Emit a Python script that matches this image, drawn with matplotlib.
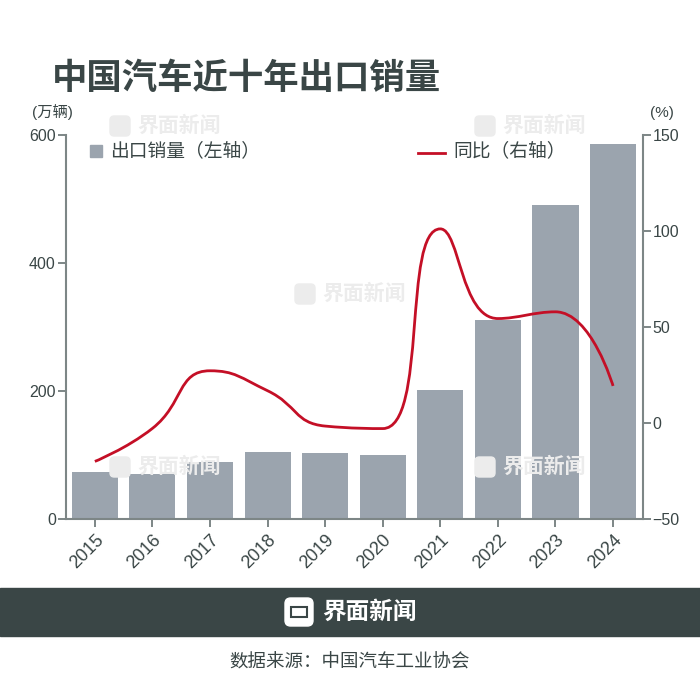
import numpy as np
import matplotlib.pyplot as plt
from matplotlib.path import Path
from matplotlib.patches import PathPatch, FancyBboxPatch, Rectangle

plt.rcParams['font.family'] = ['Liberation Sans', 'Noto Sans CJK SC', 'DejaVu Sans']

# 数据
years = ['2015', '2016', '2017', '2018', '2019', '2020', '2021', '2022', '2023', '2024']
export_vol = [72.8, 70.8, 89.1, 104.1, 102.4, 99.5, 201.5, 311.1, 491.0, 585.9]  # 万辆
yoy = [-20.0, -2.8, 27.2, 16.8, -1.6, -2.9, 101.1, 54.4, 57.9, 19.3]  # %

dark = '#3a4646'
axis_c = '#7d8686'
bar_c = '#9ba4ae'
line_c = '#c40f26'
wm_c = '#ececec'

fig = plt.figure(figsize=(7, 6.97), dpi=100)
ax = fig.add_axes([65.5 / 700, 1 - 519 / 697, (643 - 65.5) / 700, (519 - 135) / 697])
ax2 = ax.twinx()

x = np.arange(len(years))
ax.bar(x, export_vol, width=0.8, color=bar_c, zorder=2)
ax.set_xlim(-0.51, 9.52)
ax.set_ylim(0, 600)
ax.set_yticks([0, 200, 400, 600])
ax.set_xticks(x)
ax.set_xticklabels(years, rotation=45, ha='right', rotation_mode='anchor')
ax2.set_ylim(-50, 150)
ax2.set_yticks([-50, 0, 50, 100, 150])


def smooth_path(xs, ys, sx, sy, smooth=0.5):
    # 在像素比例下计算贝塞尔控制点（限制控制点不越过相邻点）
    px = np.asarray(xs, float) * sx
    py = np.asarray(ys, float) * sy
    n = len(px)
    cp_in = [None] * n
    cp_out = [None] * n
    cp_in[0] = cp_out[0] = (px[0], py[0])
    cp_in[-1] = cp_out[-1] = (px[-1], py[-1])
    for i in range(1, n - 1):
        x0, y0 = px[i - 1], py[i - 1]
        x1, y1 = px[i], py[i]
        x2, y2 = px[i + 1], py[i + 1]
        vx, vy = x2 - x0, y2 - y0
        lp = np.hypot(x1 - x0, y1 - y0)
        ln = np.hypot(x2 - x1, y2 - y1)
        r = ln / (ln + lp)
        nx = x1 + vx * smooth * r
        ny = y1 + vy * smooth * r
        nx = max(min(nx, max(x2, x1)), min(x2, x1))
        ny = max(min(ny, max(y2, y1)), min(y2, y1))
        vx, vy = nx - x1, ny - y1
        cx = x1 - vx * lp / ln
        cy = y1 - vy * lp / ln
        cx = max(min(cx, max(x0, x1)), min(x0, x1))
        cy = max(min(cy, max(y0, y1)), min(y0, y1))
        vx, vy = x1 - cx, y1 - cy
        nx = x1 + vx * ln / lp
        ny = y1 + vy * ln / lp
        cp_in[i] = (cx, cy)
        cp_out[i] = (nx, ny)
    verts = [(px[0], py[0])]
    codes = [Path.MOVETO]
    for i in range(n - 1):
        verts += [cp_out[i], cp_in[i + 1], (px[i + 1], py[i + 1])]
        codes += [Path.CURVE4] * 3
    verts = [(a / sx, b / sy) for a, b in verts]
    return Path(verts, codes)


# 每个类别约57.6像素，每1%约1.92像素
ax2.add_patch(PathPatch(smooth_path(x, yoy, 57.6, 1.92), fill=False,
                        edgecolor=line_c, lw=2, zorder=3))

for a in (ax, ax2):
    for sp in a.spines.values():
        sp.set_visible(False)
    a.tick_params(colors=axis_c, labelcolor=dark, labelsize=11.5, length=6, width=1.4)
ax.spines['left'].set_visible(True)
ax.spines['bottom'].set_visible(True)
ax2.spines['right'].set_visible(True)
for sp in (ax.spines['left'], ax.spines['bottom'], ax2.spines['right']):
    sp.set_color(axis_c)
    sp.set_linewidth(1.5)
ax.tick_params(axis='y', pad=1)
ax.tick_params(axis='x', labelsize=13, pad=3)
ax2.tick_params(axis='y', pad=1)

# 标题与单位
fig.text(52 / 700, 1 - 78 / 697, '中国汽车近十年出口销量', fontsize=25.5, fontweight='heavy',
         color=dark, va='center', ha='left', family=['Noto Sans CJK SC'])
fig.text(32 / 700, 1 - 112 / 697, '(万辆)', fontsize=11, color=dark, va='center')
fig.text(650 / 700, 1 - 113 / 697, '(%)', fontsize=11, color=dark, va='center')

# 图例
fig.patches.append(Rectangle((90 / 700, 1 - 157 / 697), 12 / 700, 12 / 697,
                             transform=fig.transFigure, color=bar_c, figure=fig))
fig.text(110 / 700, 1 - 151 / 697, '出口销量（左轴）', fontsize=13.5, color=dark, va='center',
         family=['Noto Sans CJK SC'], fontweight='light')
fig.add_artist(plt.Line2D([418 / 700, 445 / 700], [1 - 153 / 697] * 2, color=line_c, lw=2,
                          transform=fig.transFigure))
fig.text(453 / 700, 1 - 151 / 697, '同比（右轴）', fontsize=13.5, color=dark, va='center',
         family=['Noto Sans CJK SC'], fontweight='light')

# 水印
for wx, wy in [(110, 125), (475, 125), (295, 293), (110, 466), (475, 466)]:
    fig.patches.append(FancyBboxPatch((wx / 700, 1 - (wy + 11) / 697), 20 / 700, 20 / 697,
                                      boxstyle='round,pad=0,rounding_size=0.006',
                                      transform=fig.transFigure, color=wm_c, zorder=0, figure=fig))
    fig.text((wx + 27) / 700, 1 - wy / 697, '界面新闻', fontsize=15, fontweight='bold',
             color=wm_c, va='center', family=['Noto Sans CJK SC'], zorder=0)

# 底部横幅
fig.patches.append(Rectangle((0, 1 - 636 / 697), 1, 48 / 697, transform=fig.transFigure,
                             color=dark, figure=fig))
fig.patches.append(FancyBboxPatch((285 / 700, 1 - 626 / 697), 28 / 700, 28 / 697,
                                  boxstyle='round,pad=0,rounding_size=0.008',
                                  transform=fig.transFigure, color='white', figure=fig))
fig.patches.append(Rectangle((291 / 700, 1 - 617 / 697), 16 / 700, 10 / 697,
                             transform=fig.transFigure, fill=False, ec=dark, lw=1.5, figure=fig))
fig.text(322 / 700, 1 - 612 / 697, '界面新闻', fontsize=17, fontweight='bold', color='white',
         va='center', family=['Noto Sans CJK SC'])
fig.text(0.5, 1 - 663 / 697, '数据来源：中国汽车工业协会', fontsize=13.3, color=dark,
         va='center', ha='center', family=['Noto Sans CJK SC'])

fig.savefig('out.png', dpi=100, facecolor='white')
